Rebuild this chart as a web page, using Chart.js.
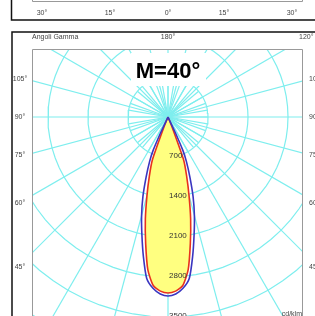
<!DOCTYPE html>
<html>
<head>
<meta charset="utf-8">
<script src="https://cdn.jsdelivr.net/npm/chart.js@4.4.1/dist/chart.umd.min.js"></script>
<style>
    html, body { margin: 0; padding: 0; background: #fff; overflow: hidden; }
    #wrap { position: relative; width: 315px; height: 316px; }
</style>
</head>
<body>
<div id="wrap"><canvas id="polarChart" width="315" height="316"></canvas></div>
<script>
// Gamma angles (deg from nadir) and intensities in cd/klm
const gammaAngles = [0, 2.5, 5, 7.5, 10, 12.5, 15, 17.5, 20, 22.5, 24, 25, 26];
const planeC0 = [3080, 3050, 2960, 2700, 2250, 1830, 1420, 1085, 800, 150, 0, 0, 0];       // red curve
const planeC90 = [3133, 3100, 3010, 2850, 2480, 2110, 1785, 1460, 1120, 840, 640, 300, 0];  // blue curve

// Grid
const ringValues = [700, 1400, 2100, 2800, 3500, 4200, 4900];
const ringLabels = ['700', '1400', '2100', '2800', '3500'];
const spokeAngles = [0, 15, 30, 45, 60, 75, 90, 105, 120, 135, 150, 165, 180,
    195, 210, 225, 240, 255, 270, 285, 300, 315, 330, 345];
const innerSpokeAngles = [0, 10, 20, 30, 40, 50, 60, 70, 80, 90, 100, 110, 120, 130, 140, 150, 160, 170,
    180, 190, 200, 210, 220, 230, 240, 250, 260, 270, 280, 290, 300, 310, 320, 330, 340, 350];

// Texts
const leftAngleLabels = ['105°', '90°', '75°', '60°', '45°'];
const topAxisLabels = ['30°', '15°', '0°', '15°', '30°'];
const beamLabel = 'M=40°';

const CYAN = '#7eeeee';
const FONT = '"Liberation Sans", Arial, sans-serif';

// gamma 0 points down, positive gamma to the right
function toXY(r, gammaDeg) {
    const g = gammaDeg * Math.PI / 180;
    return { x: r * Math.sin(g), y: -r * Math.cos(g) };
}

function planeCurve(values) {
    const pts = [];
    for (let i = gammaAngles.length - 1; i > 0; i--) pts.push(toXY(values[i], -gammaAngles[i]));
    for (let i = 0; i < gammaAngles.length; i++) pts.push(toXY(values[i], gammaAngles[i]));
    return pts;
}

function ring(r) {
    const pts = [];
    for (let a = 0; a <= 360; a += 5) pts.push(toXY(r, a));
    return pts;
}

function gridLine(data) {
    return {
        data: data,
        showLine: true,
        borderColor: CYAN,
        borderWidth: 1.2,
        pointRadius: 0,
        tension: 0,
        fill: false,
        order: 10
    };
}

const datasets = [];
ringValues.forEach(r => datasets.push(gridLine(ring(r))));
spokeAngles.forEach(a => datasets.push(gridLine([{ x: 0, y: 0 }, toXY(6000, a)])));
innerSpokeAngles.forEach(a => datasets.push(gridLine([{ x: 0, y: 0 }, toXY(ringValues[0], a)])));

datasets.push({
    data: planeCurve(planeC0),
    showLine: true,
    borderColor: '#e8321e',
    borderWidth: 1.6,
    backgroundColor: '#ffff80',
    fill: 'shape',
    pointRadius: 0,
    tension: 0.2,
    order: 2
});
datasets.push({
    data: planeCurve(planeC90),
    showLine: true,
    borderColor: '#3a35c0',
    borderWidth: 1.6,
    fill: false,
    pointRadius: 0,
    tension: 0.2,
    order: 1
});

const framePlugin = {
    id: 'frame',
    beforeDraw(chart) {
        const ctx = chart.ctx;
        ctx.save();
        ctx.fillStyle = '#fff';
        ctx.fillRect(0, 0, chart.width, chart.height);
        ctx.restore();
    },
    afterDatasetsDraw(chart) {
        const { ctx, scales: { x, y } } = chart;
        ctx.save();
        // ring values along nadir
        ctx.fillStyle = '#333';
        ctx.font = '8px ' + FONT;
        ctx.textAlign = 'left';
        ctx.textBaseline = 'middle';
        ringLabels.forEach((t, i) => {
            ctx.fillText(t, x.getPixelForValue(0) + 1, y.getPixelForValue(-ringValues[i]) - 1.5);
        });
        // beam angle box
        ctx.fillStyle = '#fff';
        ctx.fillRect(131, 53, 75, 33);
        ctx.fillStyle = '#000';
        ctx.font = 'bold 22px ' + FONT;
        ctx.textAlign = 'center';
        ctx.fillText(beamLabel, 168, 72);
        ctx.restore();
    },
    afterDraw(chart) {
        const { ctx, chartArea: a } = chart;
        ctx.save();
        // plot box
        ctx.strokeStyle = '#999';
        ctx.lineWidth = 1;
        ctx.beginPath();
        ctx.moveTo(a.left + 0.5, a.bottom);
        ctx.lineTo(a.left + 0.5, a.top + 0.5);
        ctx.lineTo(a.right - 0.5, a.top + 0.5);
        ctx.lineTo(a.right - 0.5, a.bottom);
        ctx.stroke();
        // upper (previous) plot box remnant
        ctx.beginPath();
        ctx.moveTo(a.left + 0.5, 0);
        ctx.lineTo(a.left + 0.5, 1.5);
        ctx.lineTo(a.right - 0.5, 1.5);
        ctx.lineTo(a.right - 0.5, 0);
        ctx.stroke();
        // panel borders
        ctx.strokeStyle = '#111';
        ctx.lineWidth = 1.5;
        ctx.beginPath();
        ctx.moveTo(11.5, 0);
        ctx.lineTo(11.5, 20);
        ctx.lineTo(315, 20);
        ctx.moveTo(315, 32);
        ctx.lineTo(12, 32);
        ctx.lineTo(12, 316);
        ctx.stroke();

        ctx.fillStyle = '#444';
        ctx.font = '7px ' + FONT;
        ctx.textBaseline = 'middle';
        // upper panel axis
        ctx.textAlign = 'center';
        const topX = [42, 110, 168, 224, 292];
        topAxisLabels.forEach((t, i) => ctx.fillText(t, topX[i], 13));
        // header
        ctx.textAlign = 'left';
        ctx.fillText('Angoli Gamma', 32, 37);
        ctx.fillText('120°', 299, 37);
        ctx.textAlign = 'center';
        ctx.fillText('180°', 168, 37);
        // side angles
        const sideY = [79, 117, 155, 203, 267];
        leftAngleLabels.forEach((t, i) => {
            ctx.textAlign = 'center';
            ctx.fillText(t, 20, sideY[i]);
            ctx.textAlign = 'left';
            ctx.fillText(t, 309, sideY[i]);
        });
        ctx.textAlign = 'right';
        ctx.fillText('cd/klm', 302, 314);
        ctx.restore();
    }
};

new Chart(document.getElementById('polarChart'), {
    type: 'scatter',
    data: { datasets: datasets },
    options: {
        responsive: false,
        animation: false,
        layout: { padding: { left: 32, right: 12, top: 49, bottom: 0 } },
        scales: {
            x: { type: 'linear', min: -2380, max: 2362.5, display: false },
            y: { type: 'linear', min: -3482.5, max: 1190, display: false }
        },
        plugins: {
            legend: { display: false },
            tooltip: { enabled: false }
        }
    },
    plugins: [framePlugin]
});
</script>
</body>
</html>
